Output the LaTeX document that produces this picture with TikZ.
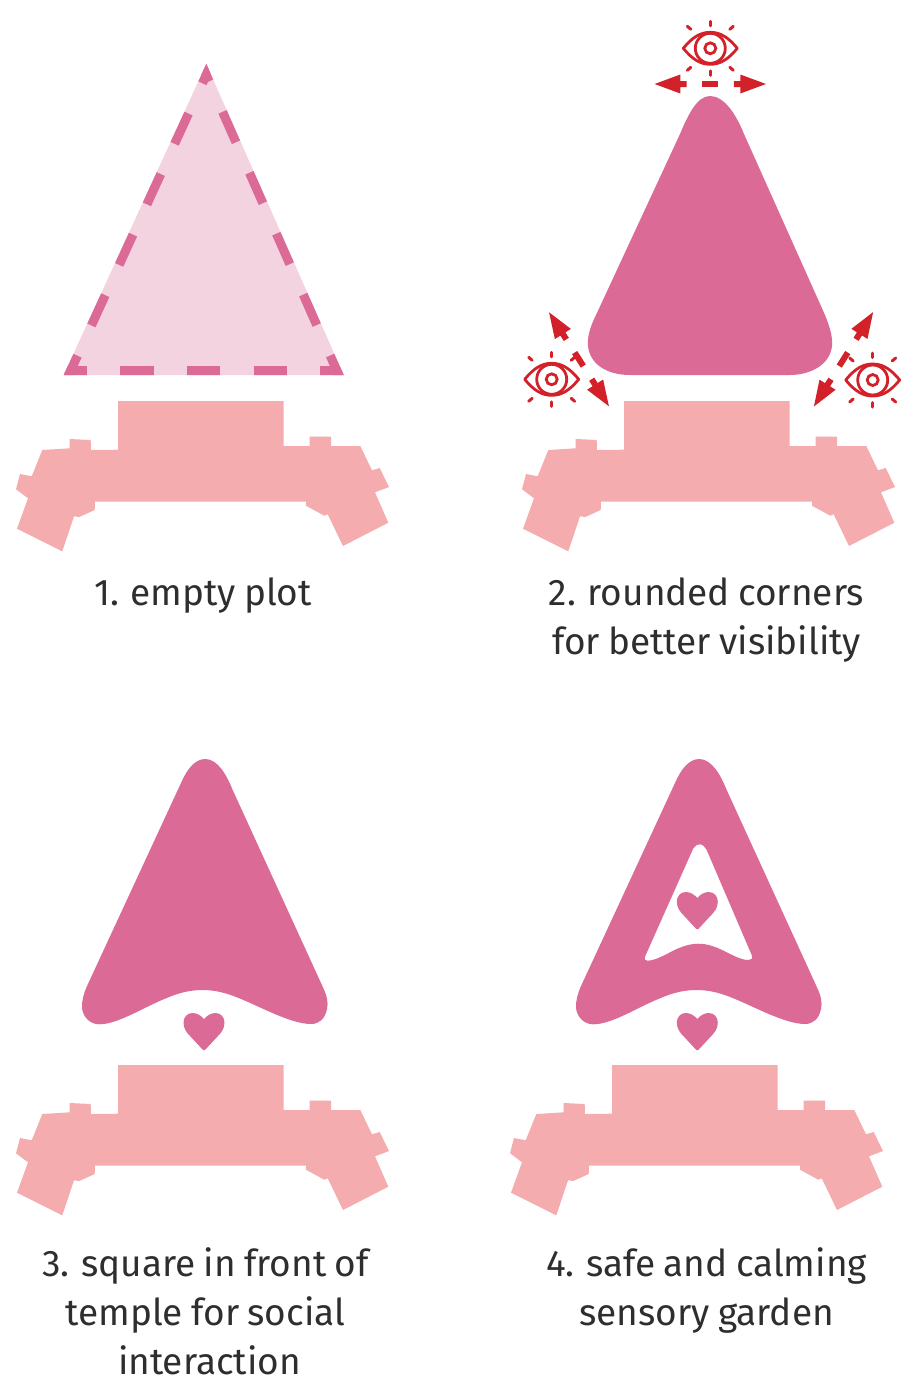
\documentclass[tikz,border=0pt]{standalone}
\usepackage{fontspec}
\setmainfont[WordSpace=0.85]{Fira Sans}
\definecolor{petal}{HTML}{DC6A97}
\definecolor{petallight}{HTML}{F4D3E1}
\definecolor{temple}{HTML}{F5ACAE}
\definecolor{alert}{HTML}{D32129}
\definecolor{ink}{HTML}{2E2E2E}
\tikzset{
  x=1pt,y=-1pt,
  caption/.style={align=center,text=ink,font=\fontsize{37}{49}\selectfont,anchor=center,inner sep=0pt},
  edgedash/.style={draw=petal,line width=18pt,dash pattern=on 33.3pt off 33.3pt,dash phase=10pt},
  eyeline/.style={draw=alert,line width=2.8pt},
  eyeray/.style={draw=alert,line width=3pt,line cap=round},
  pics/templeplan/.style={code={
    \fill[temple] (118,401)--(283.7,401)--(283.7,446)--(309.7,446)--(309.7,436.7)--(331,436.7)--(331,446)--(360.3,446)--(372,470.3)--(379.7,468)--(389,487)--(375,492.3)--(388.3,522.7)--(343,546)--(327.7,514.3)--(324.3,515.7)--(306,505.7)--(306,501.7)--(95,501.7)--(94.7,510)--(79.3,517)--(74,516.3)--(62.3,551.3)--(17,528.7)--(28,498.3)--(16,489.3)--(20,474)--(31.7,476.3)--(42.3,450)--(69.7,448.3)--(69.7,439)--(90.7,440)--(91,450)--(118,449.7)--cycle;
  }},
  pics/heartmark/.style={code={
    \fill[petal] (0,0) .. controls (3,-3.5) and (7,-6) .. (11.5,-6) .. controls (17,-6) and (20.5,-1.5) .. (20.5,3.5) .. controls (20.5,10) and (17,14) .. (13.5,17.5) -- (1,31) -- (-1,31) -- (-13.5,17.5) .. controls (-17,14) and (-20.5,10) .. (-20.5,3.5) .. controls (-20.5,-1.5) and (-17,-6) .. (-11.5,-6) .. controls (-7,-6) and (-3,-3.5) .. (0,0) -- cycle;
  }},
  pics/eyeicon/.style={code={
    \draw[eyeline,line join=round] (-27,0) .. controls (-18,-11) and (-10,-16) .. (0,-16) .. controls (10,-16) and (18,-11) .. (27,0) .. controls (18,11) and (10,16) .. (0,16) .. controls (-10,16) and (-18,11) .. (-27,0) -- cycle;
    \draw[eyeline] (0,0) circle[radius=15];
    \draw[eyeline] (0,0) circle[radius=5.5];
    \draw[eyeray] (0,-27)--(0,-22.5);
    \draw[eyeray] (0,27)--(0,22.5);
    \draw[eyeray] (-23,-22)--(-19.5,-19);
    \draw[eyeray] (23,-22)--(19.5,-19);
    \draw[eyeray] (-23,22)--(-19.5,19);
    \draw[eyeray] (23,22)--(19.5,19);
  }},
  pics/sightlines/.style={code={
    \fill[alert] (-8,-3) rectangle (8,3);
    \fill[alert] (23.6,-3)--(30,-3)--(30,-9.5)--(55.7,0)--(30,9.5)--(30,3)--(23.6,3)--cycle;
    \fill[alert] (-23.6,-3)--(-30,-3)--(-30,-9.5)--(-55.7,0)--(-30,9.5)--(-30,3)--(-23.6,3)--cycle;
  }},
  pics/softtriangle/.style={code={
    \fill[petal] (710,96) .. controls (724,96) and (736,114) .. (744,134) -- (825,315) .. controls (829,325) and (833,336) .. (832,346) .. controls (830,365) and (810,375) .. (790,375) -- (630,375) .. controls (608,375) and (590,365) .. (588,346) .. controls (587,336) and (591,325) .. (596,315) -- (680,134) .. controls (688,115) and (697,96) .. (710,96) -- cycle;
  }},
}
\newcommand{\arrowhead}{(699.3,759) .. controls (711.7,759) and (720.7,775) .. (726.7,790) -- (816.7,986.7) .. controls (821,996) and (822.5,1002) .. (821,1009) .. controls (819,1019) and (813,1024) .. (805,1024) .. controls (785,1024) and (755,1007) .. (733.3,998.3) .. controls (722,993.5) and (710,990) .. (696.7,990) .. controls (683,990) and (671,993.5) .. (660,998.3) .. controls (638,1007) and (612,1024.3) .. (593.3,1024.3) .. controls (584,1024.3) and (577,1017) .. (576,1008) .. controls (575.5,1001) and (578,993) .. (580.7,986.7) -- (675,783) .. controls (681,769) and (689,759) .. (699.3,759) -- cycle}
\begin{document}
\begin{tikzpicture}
\useasboundingbox (0,0) rectangle (903,1385);

% panel 1
\pic at (0,0) {templeplan};
\fill[petallight] (206.3,64)--(343.7,375)--(63.7,375)--cycle;
\begin{scope}
  \clip (206.3,64)--(343.7,375)--(63.7,375)--cycle;
  \draw[edgedash] (63.7,375)--(206.3,64);
  \draw[edgedash] (343.7,375)--(206.3,64);
  \draw[edgedash] (63.7,375)--(343.7,375);
\end{scope}
\node[caption] (cap1) at (203,596) {1. empty plot};

% panel 2
\pic at (506,0) {templeplan};
\pic at (0,0) {softtriangle};
\pic at (710.3,48.3) {eyeicon};
\pic at (551.7,379.3) {eyeicon};
\pic at (872.7,380) {eyeicon};
\pic at (710.3,84) {sightlines};
\pic[rotate=122.5] at (579,359.3) {sightlines};
\pic[rotate=57.9] at (843.5,359.3) {sightlines};
\node[caption] (cap2) at (706.5,620) {2. rounded corners\\for better visibility};

% panel 3
\pic at (0,664) {templeplan};
\begin{scope}[xshift=-494pt]
  \fill[petal] \arrowhead;
\end{scope}
\pic at (204,1019) {heartmark};
\node[caption] (cap3) at (205.5,1311) {3. square in front of\\temple for social\\\hspace*{8pt}interaction};

% panel 4
\pic at (494,664) {templeplan};
\fill[petal,even odd rule] \arrowhead
  (699.3,844.3) .. controls (703,844.3) and (705,847) .. (706.7,850) -- (751.7,955) .. controls (753,959) and (751,960) .. (748.3,960) .. controls (740,960) and (730,953.5) .. (720,949) .. controls (712,945.5) and (706,943.7) .. (698.3,943.7) .. controls (691,943.7) and (685,945.5) .. (676.7,949) .. controls (668,953) and (656,960.7) .. (647.3,960.7) .. controls (645,960.7) and (644,959) .. (645,956.7) -- (693.3,848.3) .. controls (695,846) and (697,844.3) .. (699.3,844.3) -- cycle;
\pic at (697.3,898) {heartmark};
\pic at (697.3,1019) {heartmark};
\node[caption] (cap4) at (706.5,1290) {4. safe and calming\\sensory garden};
\end{tikzpicture}
\end{document}
